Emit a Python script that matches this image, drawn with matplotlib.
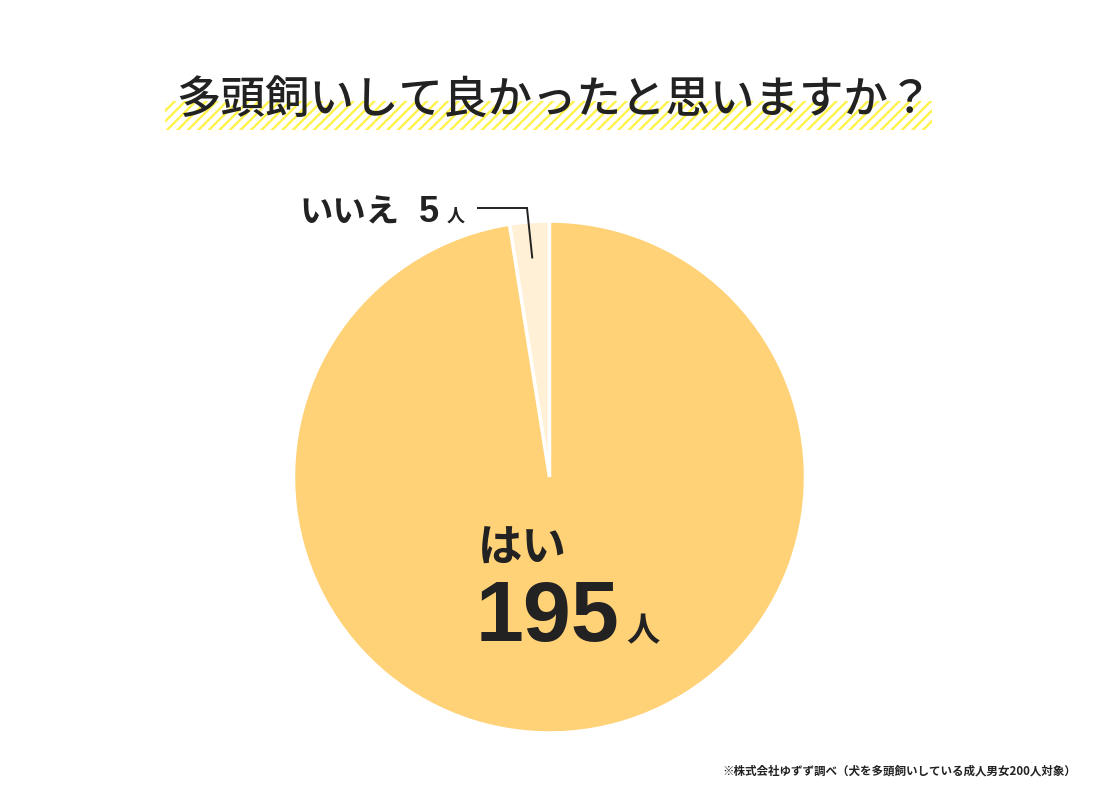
import numpy as np
import matplotlib
import matplotlib.pyplot as plt

matplotlib.use('Agg')

# Survey answers (count of people)
labels = ["いいえ", "はい"]
counts = [5, 195]
colors = ["#FFF0D6", "#FFD278"]
title = "多頭飼いして良かったと思いますか？"
note = "※株式会社ゆずず調べ（犬を多頭飼いしている成人男女200人対象）"
unit = "人"

W, H = 1100, 795
JP = ['Noto Sans CJK JP', 'DejaVu Sans']
NUM = ['Liberation Sans', 'Noto Sans CJK JP']

fig = plt.figure(figsize=(W / 100, H / 100), dpi=100)

# pie axes, square, centred at (549.5, 477) px with radius 256 px
cx, cy, r = 549.5, 477, 256
ax = fig.add_axes([(cx - r) / W, (H - cy - r) / H, 2 * r / W, 2 * r / H])
wedges, _ = ax.pie(counts, colors=colors, startangle=90, counterclock=True,
                   wedgeprops=dict(edgecolor='white', linewidth=2.5))
ax.set_xlim(-1, 1)
ax.set_ylim(-1, 1)
ax.set_aspect('equal')
ax.axis('off')

# overlay axes in pixel coordinates for text and decorations
ov = fig.add_axes([0, 0, 1, 1], facecolor='none')
ov.set_xlim(0, W)
ov.set_ylim(H, 0)
ov.axis('off')

# striped highlight band under the title
bx0, bx1, by0, by1 = 165, 932, 101, 130
band = plt.Rectangle((bx0, by0), bx1 - bx0, by1 - by0, facecolor='none',
                     edgecolor='none')
ov.add_patch(band)
for x in np.arange(bx0 - 40, bx1 + 40, 10.5):
    ln, = ov.plot([x, x + (by1 - by0)], [by1, by0], color='#FFF24A', lw=1.7)
    ln.set_clip_path(band)

ov.text(555, 100, title, family=JP, fontsize=32, fontweight='medium',
        color='#222222', ha='center', va='center')

# small slice label with leader line
small = wedges[0]
mid = np.deg2rad((small.theta1 + small.theta2) / 2)
px = cx + 0.86 * r * np.cos(mid)
py = cy - 0.86 * r * np.sin(mid)
ov.plot([478, 527, px], [208, 208, py], color='#222222', lw=1.4,
        solid_joinstyle='miter')
ov.text(299, 222, labels[0], family=JP, fontsize=24, fontweight='bold',
        color='#222222', ha='left', va='baseline')
ov.text(419, 222, str(counts[0]), family=NUM, fontsize=26, fontweight='bold',
        color='#222222', ha='left', va='baseline')
ov.text(447, 222, unit, family=JP, fontsize=13, fontweight='bold',
        color='#222222', ha='left', va='baseline')

# big slice label
ov.text(478, 562, labels[1], family=JP, fontsize=32, fontweight='bold',
        color='#222222', ha='left', va='baseline')
ov.text(476, 641, str(counts[1]), family=NUM, fontsize=62, fontweight='bold',
        color='#222222', ha='left', va='baseline')
ov.text(626, 641, unit, family=JP, fontsize=24, fontweight='bold',
        color='#222222', ha='left', va='baseline')

ov.text(1076, 771, note, family=JP, fontsize=8.3, fontweight='bold',
        color='#222222', ha='right', va='center')

fig.savefig('out.png', dpi=100, facecolor='white')
